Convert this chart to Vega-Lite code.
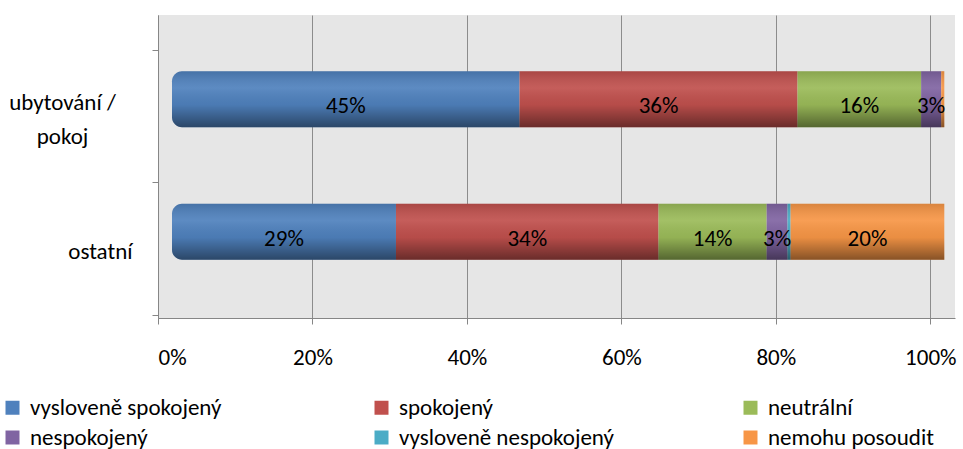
{
  "$schema": "https://vega.github.io/schema/vega-lite/v6.json",
  "width": 797,
  "height": 303,
  "autosize": {"type": "none"},
  "padding": {"left": 158, "top": 15, "right": 8, "bottom": 131},
  "background": "white",
  "config": {
    "font": "Carlito, Lato, sans-serif",
    "view": {"fill": "#e6e6e6", "stroke": null},
    "legend": {
      "orient": "none",
      "direction": "horizontal",
      "legendX": -157,
      "legendY": 381,
      "columns": 3,
      "gridAlign": "all",
      "columnPadding": 125,
      "rowPadding": 6,
      "symbolType": "square",
      "symbolSize": 196,
      "symbolStrokeWidth": 0,
      "labelFontSize": 23,
      "labelColor": "#000000",
      "labelOffset": 6,
      "labelLimit": 400
    }
  },
  "data": {
    "values": [
      {"cat": "ubytování / pokoj", "resp": "vysloveně spokojený", "value": 0.45},
      {"cat": "ubytování / pokoj", "resp": "spokojený", "value": 0.36},
      {"cat": "ubytování / pokoj", "resp": "neutrální", "value": 0.16},
      {"cat": "ubytování / pokoj", "resp": "nespokojený", "value": 0.026},
      {"cat": "ubytování / pokoj", "resp": "vysloveně nespokojený", "value": 0},
      {"cat": "ubytování / pokoj", "resp": "nemohu posoudit", "value": 0.004},
      {"cat": "ostatní", "resp": "vysloveně spokojený", "value": 0.29},
      {"cat": "ostatní", "resp": "spokojený", "value": 0.34},
      {"cat": "ostatní", "resp": "neutrální", "value": 0.14},
      {"cat": "ostatní", "resp": "nespokojený", "value": 0.027},
      {"cat": "ostatní", "resp": "vysloveně nespokojený", "value": 0.004},
      {"cat": "ostatní", "resp": "nemohu posoudit", "value": 0.199}
    ]
  },
  "transform": [
    {"calculate": "indexof(['vysloveně spokojený', 'spokojený', 'neutrální', 'nespokojený', 'vysloveně nespokojený', 'nemohu posoudit'], datum.resp)", "as": "rank"},
    {"stack": "value", "groupby": ["cat"], "sort": [{"field": "rank", "order": "ascending"}], "as": ["x0", "x1"]},
    {"calculate": "(datum.x0 + datum.x1) / 2", "as": "mid"}
  ],
  "encoding": {
    "y": {
      "field": "cat",
      "type": "nominal",
      "sort": ["ubytování / pokoj", "ostatní"],
      "scale": {"paddingInner": 0, "paddingOuter": 0.1434, "align": 0.92},
      "axis": {
        "title": null,
        "grid": false,
        "tickBand": "extent",
        "tickSize": 6,
        "tickColor": "#868686",
        "domainColor": "#868686",
        "labelFontSize": 23,
        "labelColor": "#000000",
        "labelAlign": {"condition": {"test": "datum.value == 'ubytování / pokoj'", "value": "center"}, "value": "right"},
        "labelPadding": {"condition": {"test": "datum.value == 'ubytování / pokoj'", "value": 90}, "value": 20},
        "labelLineHeight": 34,
        "labelOffset": {"condition": {"test": "datum.value == 'ubytování / pokoj'", "value": -14}, "value": 3},
        "labelExpr": "datum.label == 'ubytování / pokoj' ? ['ubytování /', 'pokoj'] : datum.label"
      }
    }
  },
  "layer": [
    {
      "mark": {
        "type": "bar",
        "size": 56,
        "yOffset": -17,
        "xOffset": 14,
        "x2Offset": 14,
        "cornerRadiusTopLeft": {"expr": "datum.rank == 0 ? 10 : 0"},
        "cornerRadiusBottomLeft": {"expr": "datum.rank == 0 ? 10 : 0"}
      },
      "encoding": {
        "x": {
          "field": "x0",
          "type": "quantitative",
          "scale": {"domain": [0, 1.032], "nice": false},
          "axis": {
            "title": null,
            "values": [0, 0.2, 0.4, 0.6, 0.8, 1],
            "format": ".0%",
            "grid": true,
            "gridColor": "#8c8c8c",
            "tickSize": 6,
            "tickColor": "#868686",
            "domainColor": "#868686",
            "labelFontSize": 23,
            "labelColor": "#000000",
            "labelPadding": 22
          }
        },
        "x2": {"field": "x1"},
        "color": {
          "field": "resp",
          "type": "nominal",
          "scale": {
            "domain": ["vysloveně spokojený", "spokojený", "neutrální", "nespokojený", "vysloveně nespokojený", "nemohu posoudit"],
            "range": ["#4f81bd", "#c0504d", "#9bbb59", "#8064a2", "#4bacc6", "#f79646"]
          },
          "legend": {"title": null}
        }
      }
    },
    {
      "mark": {
        "type": "bar",
        "size": 56,
        "yOffset": -17,
        "xOffset": 14,
        "x2Offset": 14,
        "cornerRadiusTopLeft": 10,
        "cornerRadiusBottomLeft": 10,
        "fill": {
          "gradient": "linear",
          "x1": 0, "y1": 0, "x2": 0, "y2": 1,
          "stops": [
            {"offset": 0, "color": "rgba(0,0,0,0.12)"},
            {"offset": 0.3, "color": "rgba(255,255,255,0.08)"},
            {"offset": 0.6, "color": "rgba(0,0,0,0.05)"},
            {"offset": 1, "color": "rgba(0,0,0,0.45)"}
          ]
        }
      },
      "encoding": {
        "x": {"aggregate": "min", "field": "x0", "type": "quantitative"},
        "x2": {"aggregate": "max", "field": "x1"}
      }
    },
    {
      "mark": {"type": "text", "fontSize": 23, "yOffset": -10, "xOffset": 14, "baseline": "middle", "align": "center", "color": "#000000"},
      "encoding": {
        "x": {"field": "mid", "type": "quantitative"},
        "text": {"field": "value", "type": "quantitative", "format": ".0%"},
        "opacity": {"condition": {"test": "datum.value < 0.01", "value": 0}, "value": 1}
      }
    }
  ]
}
